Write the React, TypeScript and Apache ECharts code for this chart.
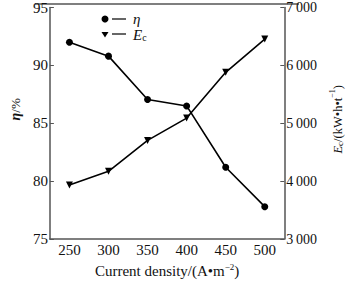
import React, { useEffect, useRef } from "react";
import * as echarts from "echarts";

const currentDensity = [250, 300, 350, 400, 450, 500];
const etaValues = [92.0, 90.8, 87.05, 86.5, 81.2, 77.8];
const ecValues = [3935, 4170, 4705, 5090, 5880, 6455];
const rightTickLabels: Record<number, string> = {
  3000: "3\u2009000",
  4000: "4\u2009000",
  5000: "5\u2009000",
  6000: "6\u2009000",
  7000: "7\u2009000",
};

const FONT = "Liberation Serif";

export default function App() {
  const ref = useRef<HTMLDivElement>(null);
  useEffect(() => {
    if (!ref.current) return;
    const chart = echarts.init(ref.current, null, { renderer: "svg" });
    const axisColor = "#555";
    chart.setOption({
      animation: false,
      backgroundColor: "#fff",
      textStyle: { fontFamily: FONT },
      grid: { left: 35, right: 53, top: 4, bottom: 34 },
      xAxis: {
        type: "value",
        min: 225,
        max: 525,
        interval: 50,
        axisLine: { show: true, lineStyle: { color: axisColor, width: 1.5 } },
        axisTick: { show: false },
        splitLine: { show: false },
        axisLabel: {
          margin: 3,
          color: "#111",
          fontSize: 15,
          fontFamily: FONT,
          customValues: currentDensity,
        },
        name: "{t|Current density/(A\u2022m}{s|\u22122}{t|)}",
        nameLocation: "middle",
        nameGap: 22,
        nameTextStyle: {
          rich: {
            t: { fontSize: 15, fontFamily: FONT, color: "#111", verticalAlign: "bottom", lineHeight: 16 },
            s: { fontSize: 9, fontFamily: FONT, color: "#111", verticalAlign: "top", lineHeight: 16 },
          },
        },
      },
      yAxis: [
        {
          type: "value",
          min: 75,
          max: 95,
          interval: 5,
          position: "left",
          axisLine: { show: true, lineStyle: { color: axisColor, width: 1.5 } },
          axisTick: { show: true, inside: true, length: 4, lineStyle: { color: axisColor } },
          splitLine: { show: false },
          axisLabel: { margin: 2, color: "#111", fontSize: 15, fontFamily: FONT },
          name: "{e|\u03b7}{t|/%}",
          nameLocation: "middle",
          nameGap: 27,
          nameRotate: 90,
          nameTextStyle: {
            padding: [0, 0, 0, 28],
            rich: {
              e: { fontSize: 14, fontStyle: "italic", fontWeight: "bold", fontFamily: FONT, color: "#111" },
              t: { fontSize: 13, fontFamily: FONT, color: "#111" },
            },
          },
        },
        {
          type: "value",
          min: 3000,
          max: 7000,
          interval: 1000,
          position: "right",
          axisLine: { show: true, lineStyle: { color: axisColor, width: 1.5 } },
          axisTick: { show: true, inside: true, length: 4, lineStyle: { color: axisColor } },
          splitLine: { show: false },
          axisLabel: {
            margin: 2,
            color: "#111",
            fontSize: 14,
            fontFamily: FONT,
            formatter: (v: number) => rightTickLabels[v] ?? String(v),
          },
          name: "{e|E}{c|c}{t|/(kW\u2022h\u2022t}{s|\u22121}{t|)}",
          nameLocation: "middle",
          nameGap: 41,
          nameRotate: 90,
          nameTextStyle: {
            padding: [0, 0, 0, 8],
            rich: {
              e: { fontSize: 12.5, fontStyle: "italic", fontFamily: FONT, color: "#111", verticalAlign: "bottom", lineHeight: 16 },
              c: { fontSize: 9, fontFamily: FONT, color: "#111", verticalAlign: "bottom", lineHeight: 14 },
              t: { fontSize: 12.5, fontFamily: FONT, color: "#111", verticalAlign: "bottom", lineHeight: 16 },
              s: { fontSize: 8, fontFamily: FONT, color: "#111", verticalAlign: "top", lineHeight: 16 },
            },
          },
        },
      ],
      series: [
        {
          name: "eta",
          type: "line",
          yAxisIndex: 0,
          data: currentDensity.map((x, i) => [x, etaValues[i]]),
          symbol: "circle",
          symbolSize: 7,
          lineStyle: { color: "#000", width: 1.6 },
          itemStyle: { color: "#000" },
        },
        {
          name: "Ec",
          type: "line",
          yAxisIndex: 1,
          data: currentDensity.map((x, i) => [x, ecValues[i]]),
          symbol: "triangle",
          symbolRotate: 180,
          symbolSize: 7,
          lineStyle: { color: "#000", width: 1.6 },
          itemStyle: { color: "#000" },
        },
      ],
      graphic: [
        { type: "line", shape: { x1: 35, y1: 4, x2: 299, y2: 4 }, style: { stroke: axisColor, lineWidth: 1.5 } },
        { type: "circle", shape: { cx: 105, cy: 19, r: 3.5 }, style: { fill: "#000" } },
        { type: "line", shape: { x1: 112, y1: 19, x2: 126, y2: 19 }, style: { stroke: "#000", lineWidth: 1.2 } },
        {
          type: "text",
          x: 133,
          y: 19,
          style: { text: "\u03b7", font: `italic 15px ${FONT}`, fill: "#111", verticalAlign: "middle" },
        },
        {
          type: "polygon",
          shape: { points: [[101.5, 32], [108.5, 32], [105, 37.5]] },
          style: { fill: "#000" },
        },
        { type: "line", shape: { x1: 112, y1: 34, x2: 126, y2: 34 }, style: { stroke: "#000", lineWidth: 1.2 } },
        {
          type: "text",
          x: 133,
          y: 34,
          style: {
            text: "{e|E}{c|c}",
            verticalAlign: "middle",
            rich: {
              e: { fontSize: 15, fontStyle: "italic", fontFamily: FONT, fill: "#111", verticalAlign: "bottom", lineHeight: 16 },
              c: { fontSize: 10, fontFamily: FONT, fill: "#111", verticalAlign: "bottom", lineHeight: 12 },
            },
          },
        },
      ],
    });
    return () => chart.dispose();
  }, []);
  return <div ref={ref} style={{ width: 352, height: 283, position: "fixed", left: 0, top: 0 }} />;
}
